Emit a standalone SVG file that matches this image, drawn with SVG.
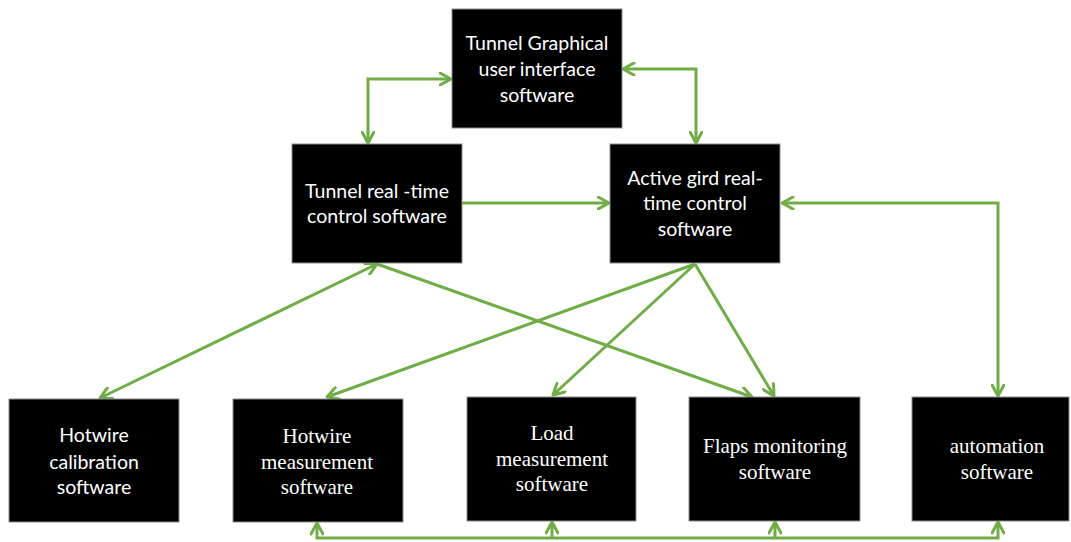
<svg xmlns="http://www.w3.org/2000/svg" width="1071" height="542" viewBox="0 0 1071 542">
<style>
.box{fill:#000;stroke:#8c8c8c;stroke-width:1}
.sans{font-family:Lato,"Open Sans","Liberation Sans",sans-serif;font-size:19.5px;fill:#fff;text-anchor:middle}
.serif{font-family:"Liberation Serif","Times New Roman",serif;font-size:21px;fill:#fff;text-anchor:middle}
.con{fill:none;stroke:#70AD47;stroke-width:3}
</style>
<defs>
<marker id="ah" viewBox="0 0 14 14" refX="12.5" refY="7" markerWidth="14" markerHeight="14" markerUnits="userSpaceOnUse" orient="auto-start-reverse">
<path d="M1.5,1 L12.5,7 L1.5,13" fill="none" stroke="#70AD47" stroke-width="3" stroke-linecap="round" stroke-linejoin="round"/>
</marker>
</defs>
<g id="connectors">
<path class="con" d="M451,79 H368 V143" marker-start="url(#ah)" marker-end="url(#ah)"/>
<path class="con" d="M623,69 H696 V143" marker-start="url(#ah)" marker-end="url(#ah)"/>
<path class="con" d="M462,203 H609" marker-end="url(#ah)"/>
<path class="con" d="M782,203 H998 V396" marker-start="url(#ah)" marker-end="url(#ah)"/>
<path class="con" d="M377,264 L100,398" marker-start="url(#ah)" marker-end="url(#ah)"/>
<path class="con" d="M377,264 L752,397" marker-end="url(#ah)"/>
<path class="con" d="M695,264 L327,397" marker-end="url(#ah)"/>
<path class="con" d="M695,264 L553,395" marker-end="url(#ah)"/>
<path class="con" d="M695,264 L774,396" marker-end="url(#ah)"/>
<path class="con" d="M317,523 V538 H998 V522" marker-start="url(#ah)" marker-end="url(#ah)"/>
<path class="con" d="M552,538 V522" marker-end="url(#ah)"/>
<path class="con" d="M775,538 V522" marker-end="url(#ah)"/>
</g>
<g id="gui">
<rect class="box" x="452" y="9" width="170" height="119"/>
<text class="sans" x="537" y="50">Tunnel Graphical</text>
<text class="sans" x="537" y="76">user interface</text>
<text class="sans" x="537" y="102">software</text>
</g>
<g id="tunnel-rt">
<rect class="box" x="292" y="144" width="170" height="119"/>
<text class="sans" x="377" y="198">Tunnel real -time</text>
<text class="sans" x="377" y="223">control software</text>
</g>
<g id="active-grid">
<rect class="box" x="610" y="144" width="170" height="119"/>
<text class="sans" x="695" y="185">Active gird real-</text>
<text class="sans" x="695" y="210">time control</text>
<text class="sans" x="695" y="236">software</text>
</g>
<g id="hotwire-cal">
<rect class="box" x="9" y="399" width="170" height="123"/>
<text class="sans" x="94" y="442">Hotwire</text>
<text class="sans" x="94" y="469">calibration</text>
<text class="sans" x="94" y="494">software</text>
</g>
<g id="hotwire-meas">
<rect class="box" x="233" y="399" width="170" height="123"/>
<text class="serif" x="317" y="443">Hotwire</text>
<text class="serif" x="317" y="469">measurement</text>
<text class="serif" x="317" y="494">software</text>
</g>
<g id="load">
<rect class="box" x="467" y="397" width="169" height="124"/>
<text class="serif" x="552" y="440">Load</text>
<text class="serif" x="552" y="466">measurement</text>
<text class="serif" x="552" y="491">software</text>
</g>
<g id="flaps">
<rect class="box" x="689" y="397" width="171" height="124"/>
<text class="serif" x="775" y="453">Flaps monitoring</text>
<text class="serif" x="775" y="479">software</text>
</g>
<g id="automation">
<rect class="box" x="912" y="397" width="157" height="124"/>
<text class="serif" x="997" y="453">automation</text>
<text class="serif" x="997" y="479">software</text>
</g>
</svg>
